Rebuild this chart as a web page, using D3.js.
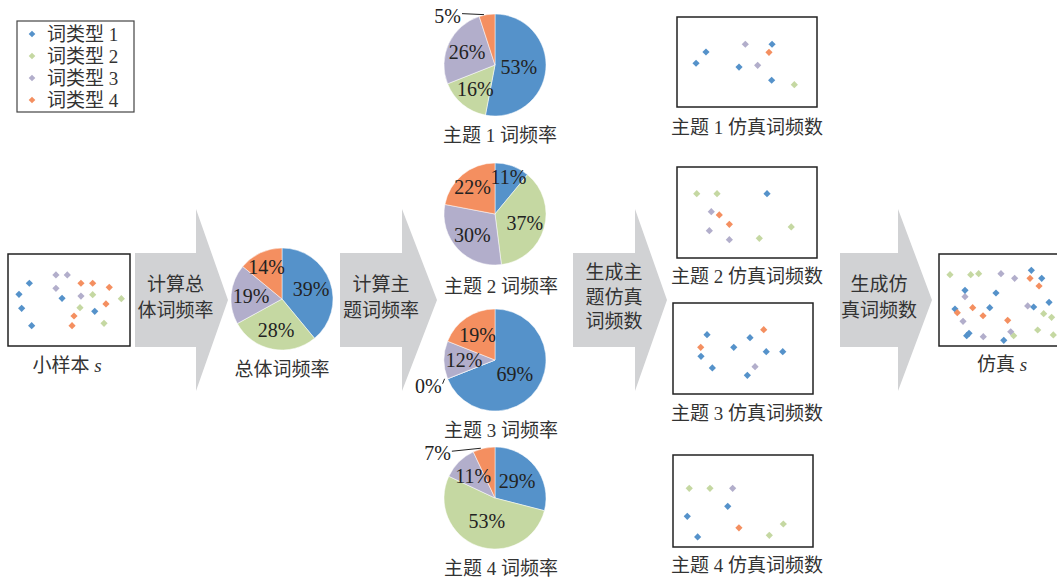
<!DOCTYPE html>
<html><head><meta charset="utf-8">
<script src="https://cdn.jsdelivr.net/npm/d3@7"></script>
<style>
html,body{margin:0;padding:0;background:#fff;}
svg{display:block;}
text{font-family:"Liberation Serif","Noto Sans CJK SC",serif;}
</style></head>
<body><svg id="c" width="1057" height="580"></svg>
<script>
// ---------- data ----------
const typeNames = ["词类型 1", "词类型 2", "词类型 3", "词类型 4"];
const pieOverall = [39, 28, 19, 14];
const pieTopic1 = [53, 16, 26, 5];
const pieTopic2 = [11, 37, 30, 22];
const pieTopic3 = [69, 0, 12, 19];
const pieTopic4 = [29, 53, 11, 7];
const pieTitles = ["总体词频率", "主题 1 词频率", "主题 2 词频率", "主题 3 词频率", "主题 4 词频率"];
const simTitles = ["主题 1 仿真词频数", "主题 2 仿真词频数", "主题 3 仿真词频数", "主题 4 仿真词频数"];
const arrowTexts = [["计算总", "体词频率"], ["计算主", "题词频率"], ["生成主", "题仿真", "词频数"], ["生成仿", "真词频数"]];
// scatter points: [wordType, x, y] on a 0-100 grid
const sampleS = [[0,17.5,68.2],[0,9.0,56.2],[0,11.2,41.0],[0,19.4,22.1],[0,44.3,51.8],[0,71.1,37.7],
  [2,39.3,77.2],[2,48.6,77.2],[2,39.3,62.7],[2,59.8,54.3],
  [3,59.8,68.2],[3,69.4,68.2],[3,83.0,63.8],[3,80.3,45.7],[3,54.1,32.6],[3,52.5,22.1],
  [1,69.4,55.8],[1,92.9,51.4],[1,59.0,41.6],[1,78.7,24.7]];
const simTopic1 = [[0,20.7,61.1],[0,13.6,48.6],[0,44.3,44.4],[0,67.9,69.7],[0,67.6,29.7],
  [2,48.8,69.7],[2,57.6,46.3],[3,65.7,60.8],[1,83.8,24.8]];
const simTopic2 = [[1,14.1,70.7],[1,28.6,70.7],[1,81.6,34.1],[1,58.8,21.6],[0,64.3,70.7],
  [2,24.5,50.9],[2,23.1,30.0],[2,37.4,20.1],[3,30.2,47.3],[3,37.4,37.0]];
const simTopic3 = [[0,24.3,65.2],[0,20.0,41.4],[0,28.1,28.6],[0,43.4,51.3],[0,55.0,61.9],[0,66.6,46.5],[0,78.4,46.5],[0,53.1,20.5],
  [3,19.8,51.3],[3,64.8,70.7],[2,58.6,30.0]];
const simTopic4 = [[1,11.6,63.8],[1,26.4,63.8],[1,78.8,25.0],[1,68.8,12.7],[2,42.6,63.8],
  [0,39.1,44.2],[0,10.2,33.4],[0,17.6,10.9],[3,47.1,20.9]];
const simS = [[1,9.0,77.5],[1,26.0,77.5],[1,32.5,78.6],[1,85.8,35.1],[1,92.3,31.2],[1,80.9,17.4],[1,93.7,12.0],[1,61.2,11.2],
  [2,50.8,78.6],[2,62.0,73.6],[2,21.3,53.6],[2,72.7,43.5],[2,19.7,26.8],[2,58.8,15.5],[2,36.3,10.1],
  [0,75.7,82.3],[0,84.2,73.6],[0,21.3,60.5],[0,46.7,57.6],[0,90.2,47.5],[0,13.1,40.2],[0,41.6,41.6],[0,77.6,42.4],[0,22.7,11.2],[0,24.6,13.8],[0,53.1,6.2],
  [3,74.6,73.6],[3,82.0,65.2],[3,27.6,41.6],[3,15.0,36.2],[3,36.1,32.9],[3,56.3,27.9]];

// ---------- style / layout ----------
const colors = ["#5592CA", "#C5D8A2", "#B2AECB", "#F48F60"];
const color = d3.scaleOrdinal().domain([0,1,2,3]).range(colors);
const gray = "#D1D2D4";
const txt = "#333";
const svg = d3.select("#c");

// arrows
const arrows = [
  {x0:135, x1:196, tip:228, cy:300},
  {x0:340, x1:402, tip:437, cy:300},
  {x0:573, x1:635, tip:667, cy:300},
  {x0:840, x1:898, tip:932, cy:300}
];
const line = d3.line();
arrows.forEach((a, i) => {
  const pts = [[a.x0, a.cy-47],[a.x1, a.cy-47],[a.x1, a.cy-91],[a.tip, a.cy],[a.x1, a.cy+91],[a.x1, a.cy+47],[a.x0, a.cy+47]];
  svg.append("path").attr("d", line(pts) + "Z").attr("fill", gray);
  const lines = arrowTexts[i];
  const cx = (a.x0 + a.x1) / 2 + 10;
  const step = lines.length === 3 ? 24.5 : 25.5;
  const y0 = a.cy - (lines.length - 1) * step / 2 - 3;
  lines.forEach((t, j) => {
    svg.append("text").attr("x", cx).attr("y", y0 + j*step).attr("dy", "0.36em")
      .attr("text-anchor", "middle").attr("font-size", 19).attr("fill", txt).text(t);
  });
});

// scatter boxes
const diamond = d3.symbol(d3.symbolSquare, 26);
function scatterBox(pts, x0, y0, x1, y1) {
  const g = svg.append("g");
  g.append("rect").attr("x", x0).attr("y", y0).attr("width", x1-x0).attr("height", y1-y0)
    .attr("fill", "#fff").attr("stroke", "#222").attr("stroke-width", 1.5);
  const xs = d3.scaleLinear().domain([0,100]).range([x0, x1]);
  const ys = d3.scaleLinear().domain([0,100]).range([y1, y0]);
  g.selectAll("path.pt").data(pts).join("path").attr("class","pt")
    .attr("d", diamond)
    .attr("transform", d => `translate(${xs(d[1])},${ys(d[2])}) rotate(45)`)
    .attr("fill", d => color(d[0]));
}
function label(t, x, y, italicS) {
  const el = svg.append("text").attr("x", x).attr("y", y).attr("dy", "0.36em")
    .attr("text-anchor", "middle").attr("font-size", 19).attr("fill", txt);
  if (italicS) {
    el.append("tspan").text(t + " ");
    el.append("tspan").attr("font-style", "italic").text("s");
  } else el.text(t);
}
scatterBox(sampleS, 8, 254, 130, 346);
label("小样本", 67, 365, true);
scatterBox(simTopic1, 677, 17, 817, 107);
scatterBox(simTopic2, 677, 167, 817, 258);
scatterBox(simTopic3, 673, 303, 813, 394);
scatterBox(simTopic4, 673, 455, 813, 547);
const simLabelY = [127, 276, 413, 565];
simTitles.forEach((t, i) => label(t, 747, simLabelY[i]));
scatterBox(simS, 939, 254, 1061, 346);
label("仿真", 1002, 364, true);

// pies
const pies = [
  {vals: pieOverall, cx: 282, cy: 299, ty: 369, tx: 282, lr: [31,31,31,36], out: null},
  {vals: pieTopic1, cx: 495, cy: 65, ty: 135, tx: 500, lr: [24,31,31,31], out: {i:3, dx:26, dy:1}},
  {vals: pieTopic2, cx: 495, cy: 214, ty: 286, tx: 501, lr: [40,31,31,35], out: null},
  {vals: pieTopic3, cx: 495, cy: 360, ty: 430, tx: 501, lr: [24,31,31,31], out: {i:1, dx:6, dy:7}},
  {vals: pieTopic4, cx: 495, cy: 498, ty: 568, tx: 501, lr: [28,24,31,31], out: {i:3, dx:33, dy:5}}
];
const R = 51;
const pieGen = d3.pie().sort(null).value(d => d);
const arc = d3.arc().innerRadius(0).outerRadius(R);
const edgeArc = d3.arc().innerRadius(R).outerRadius(R);
pies.forEach((p, k) => {
  const g = svg.append("g").attr("transform", `translate(${p.cx},${p.cy})`);
  const arcs = pieGen(p.vals);
  g.selectAll("path").data(arcs).join("path").attr("d", arc)
    .attr("fill", (d, i) => colors[i]).attr("stroke", "#fff").attr("stroke-width", 0.5);
  arcs.forEach((a, i) => {
    if (p.out && p.out.i === i) {
      const e = edgeArc.centroid(a);
      const tx = e[0] - p.out.dx, ty = e[1] + p.out.dy;
      g.append("line").attr("x1", tx + 1).attr("y1", ty - 2).attr("x2", e[0] - 3).attr("y2", e[1])
        .attr("stroke", "#222").attr("stroke-width", 1);
      g.append("text").attr("x", tx).attr("y", ty).attr("dy", "0.36em").attr("text-anchor", "end")
        .attr("font-size", 20).attr("fill", "#222").text(p.vals[i] + "%");
    } else {
      const c = d3.arc().innerRadius(p.lr[i]).outerRadius(p.lr[i]).centroid(a);
      g.append("text").attr("x", c[0]).attr("y", c[1]).attr("dy", "0.36em").attr("text-anchor", "middle")
        .attr("font-size", 20).attr("fill", "#222").text(p.vals[i] + "%");
    }
  });
  label(pieTitles[k], p.tx, p.ty);
});

// legend
const lg = svg.append("g");
lg.append("rect").attr("x", 17).attr("y", 21).attr("width", 117).attr("height", 91)
  .attr("fill", "#fff").attr("stroke", "#444").attr("stroke-width", 1.2);
const legY = d3.scalePoint().domain([0,1,2,3]).range([34, 100]);
typeNames.forEach((t, i) => {
  lg.append("path").attr("d", d3.symbol(d3.symbolSquare, 22))
    .attr("transform", `translate(32,${legY(i)}) rotate(45)`).attr("fill", colors[i]);
  lg.append("text").attr("x", 47).attr("y", legY(i)).attr("dy", "0.36em")
    .attr("font-size", 19).attr("fill", txt).text(t);
});
</script></body></html>
